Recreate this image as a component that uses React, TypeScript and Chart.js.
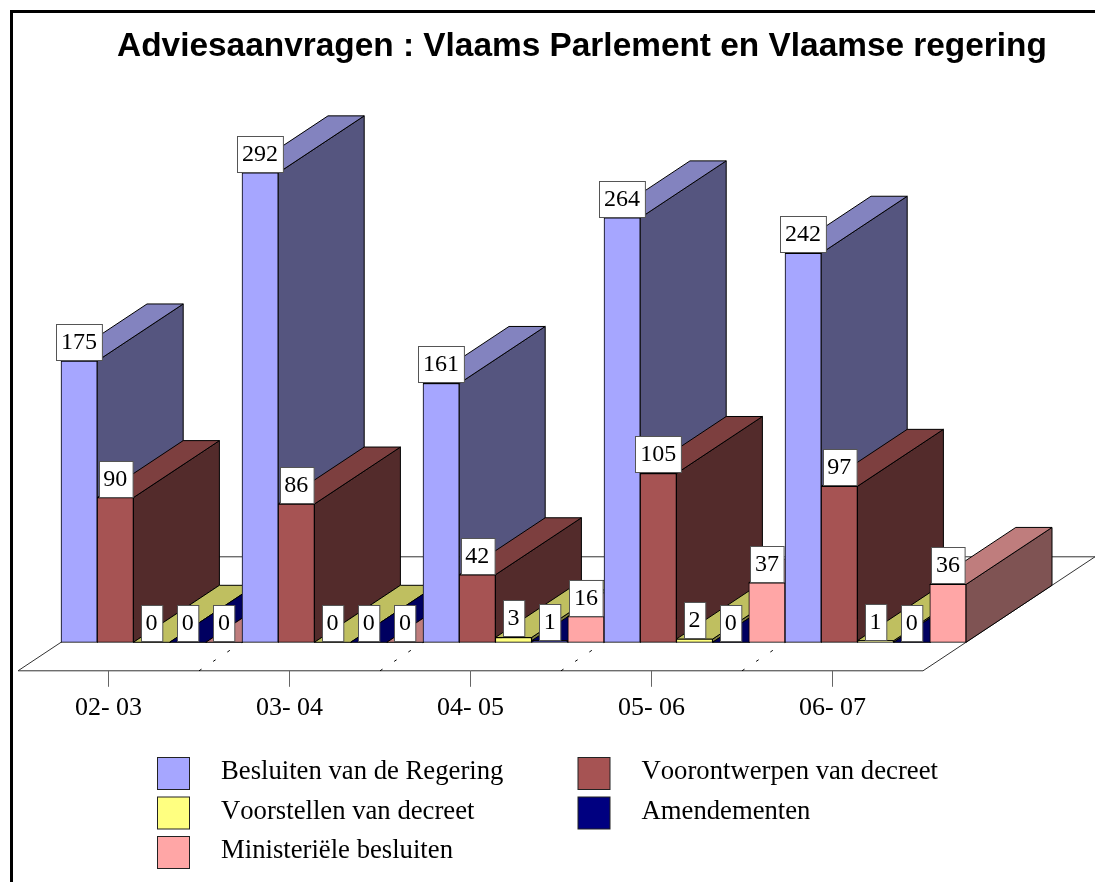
import React, { useEffect, useRef } from "react";
import { Chart, registerables } from "chart.js";

Chart.register(...registerables);

const chartTitle = "Adviesaanvragen : Vlaams Parlement en Vlaamse regering";
const categories = ["02- 03", "03- 04", "04- 05", "05- 06", "06- 07"];
const besluiten = [175, 292, 161, 264, 242];
const voorontwerpen = [90, 86, 42, 105, 97];
const voorstellen = [0, 0, 3, 2, 1];
const amendementen = [0, 0, 1, 0, 0];
const ministeriele = [0, 0, 16, 37, 36];

const seriesStyles = [
  { front: "#A6A6FF", side: "#55557F", top: "#8383BF" },
  { front: "#A65353", side: "#532B2B", top: "#7D3F3F" },
  { front: "#FFFF80", side: "#808040", top: "#BFBF60" },
  { front: "#000080", side: "#000040", top: "#000060" },
  { front: "#FFA6A6", side: "#7F5353", top: "#BF7D7D" },
];

const DEPTH_X = 86;
const DEPTH_Y = 57;
const SERIF = '"Liberation Serif", "Times New Roman", serif';

function poly(ctx: CanvasRenderingContext2D, pts: number[][], fill: string | null, stroke: string | null) {
  ctx.beginPath();
  pts.forEach((p, i) => (i === 0 ? ctx.moveTo(p[0], p[1]) : ctx.lineTo(p[0], p[1])));
  ctx.closePath();
  if (fill) {
    ctx.fillStyle = fill;
    ctx.fill();
  }
  if (stroke) {
    ctx.strokeStyle = stroke;
    ctx.lineWidth = 1;
    ctx.stroke();
  }
}

const scene3d = {
  id: "scene3d",
  beforeDraw(chart: any) {
    const { ctx, width, height } = chart;
    ctx.save();
    ctx.fillStyle = "#FFFFFF";
    ctx.fillRect(0, 0, width, height);
    ctx.fillStyle = "#000000";
    ctx.fillRect(10, 10, width - 10, 3);
    ctx.fillRect(10, 10, 3, height - 10);
    ctx.font = 'bold 33.4px "Liberation Sans", Arial, sans-serif';
    ctx.textAlign = "center";
    ctx.textBaseline = "alphabetic";
    ctx.fillText(chartTitle, 582, 56);
    ctx.restore();
  },
  beforeDatasetsDraw(chart: any) {
    const { ctx } = chart;
    const xs = chart.scales.x;
    const ys = chart.scales.y;
    const base = ys.getPixelForValue(0);
    const n = categories.length;
    const step = xs.getPixelForValue(1) - xs.getPixelForValue(0);
    const metas = chart.data.datasets.map((_: any, i: number) => chart.getDatasetMeta(i));
    const fx = xs.left - DEPTH_X / 2;
    const fy = base + DEPTH_Y / 2;
    ctx.save();
    // floor
    poly(
      ctx,
      [
        [fx, fy],
        [fx + step * n, fy],
        [fx + step * n + DEPTH_X * 2, fy - DEPTH_Y * 2],
        [fx + DEPTH_X * 2, fy - DEPTH_Y * 2],
      ],
      "#FFFFFF",
      "#333333"
    );
    // axis tick marks
    ctx.strokeStyle = "#666666";
    ctx.lineWidth = 1;
    categories.forEach((_, i) => {
      const tx = Math.floor(xs.getPixelForValue(i) - DEPTH_X / 2) + 0.5;
      ctx.beginPath();
      ctx.moveTo(tx, fy);
      ctx.lineTo(tx, fy + 16);
      ctx.stroke();
    });
    // dashed floor gridlines
    ctx.strokeStyle = "#000000";
    ctx.setLineDash([3, 14]);
    for (let i = 1; i < n; i++) {
      const bx = fx + step * i;
      ctx.beginPath();
      ctx.moveTo(bx, fy);
      ctx.lineTo(bx + DEPTH_X / 2, base);
      ctx.stroke();
    }
    ctx.setLineDash([]);
    // bars painted left to right so that nearer faces cover farther ones
    for (let c = 0; c < n; c++) {
      metas.forEach((meta: any, s: number) => {
        const el = meta.data[c];
        const st = seriesStyles[s];
        const l = el.x - el.width / 2;
        const r = el.x + el.width / 2;
        const t = el.y;
        const b = el.base;
        poly(ctx, [[r, t], [r + DEPTH_X, t - DEPTH_Y], [r + DEPTH_X, b - DEPTH_Y], [r, b]], st.side, "#000000");
        poly(ctx, [[l, t], [r, t], [r + DEPTH_X, t - DEPTH_Y], [l + DEPTH_X, t - DEPTH_Y]], st.top, "#000000");
        el.draw(ctx);
      });
    }
    // value boxes
    ctx.font = `24px ${SERIF}`;
    ctx.textAlign = "center";
    ctx.textBaseline = "middle";
    metas.forEach((meta: any, s: number) => {
      const values = chart.data.datasets[s].data;
      meta.data.forEach((el: any, c: number) => {
        const text = String(values[c]);
        const w = text.length * 12.3 + 9;
        const h = 36;
        const bx = Math.round(el.x - w / 2) + 0.5;
        const by = Math.round(el.y - h) - 0.5;
        ctx.fillStyle = "#FFFFFF";
        ctx.strokeStyle = "#555555";
        ctx.lineWidth = 1;
        ctx.fillRect(bx, by, w, h);
        ctx.strokeRect(bx, by, w, h);
        ctx.fillStyle = "#000000";
        ctx.fillText(text, el.x, by + h / 2);
      });
    });
    // legend
    const legendX = [157.5, 578];
    const legendY = [757, 796.5, 836];
    ctx.font = `26.7px ${SERIF}`;
    (ctx as any).fontKerning = "none";
    ctx.textAlign = "left";
    ctx.textBaseline = "middle";
    chart.data.datasets.forEach((ds: any, i: number) => {
      const x = legendX[i % 2];
      const y = legendY[Math.floor(i / 2)];
      ctx.fillStyle = ds.backgroundColor;
      ctx.strokeStyle = "#222222";
      ctx.fillRect(x, y + 0.5, 32, 32);
      ctx.strokeRect(x, y + 0.5, 32, 32);
      ctx.fillStyle = "#000000";
      ctx.fillText(ds.label, x + 63.5, y + 15);
    });
    ctx.restore();
    return false;
  },
};

export default function App() {
  const ref = useRef<HTMLCanvasElement | null>(null);
  useEffect(() => {
    if (!ref.current) return;
    const makeSet = (label: string, data: number[], s: number) => ({
      label,
      data,
      backgroundColor: seriesStyles[s].front,
      borderColor: "#000000",
      borderWidth: 1,
      borderSkipped: false,
      categoryPercentage: 1,
      barPercentage: 1,
    });
    const chart = new Chart(ref.current, {
      type: "bar",
      data: {
        labels: categories,
        datasets: [
          makeSet("Besluiten van de Regering", besluiten, 0),
          makeSet("Voorontwerpen van decreet", voorontwerpen, 1),
          makeSet("Voorstellen van decreet", voorstellen, 2),
          makeSet("Amendementen", amendementen, 3),
          makeSet("Ministeriële besluiten", ministeriele, 4),
        ],
      },
      options: {
        responsive: false,
        animation: false,
        layout: { padding: { left: 61, right: 129, top: 160, bottom: 108.5 } },
        plugins: { legend: { display: false }, title: { display: false }, tooltip: { enabled: false } },
        scales: {
          x: {
            grid: { display: false, drawTicks: false },
            border: { display: false },
            ticks: {
              padding: 50,
              labelOffset: -DEPTH_X / 2,
              maxRotation: 0,
              autoSkip: false,
              color: "#000000",
              font: { family: SERIF, size: 26 },
            },
          },
          y: { display: false, min: 0, max: 300 },
        },
      },
      plugins: [scene3d],
    } as any);
    return () => chart.destroy();
  }, []);
  return (
    <canvas
      ref={ref}
      width={1095}
      height={882}
      style={{ position: "absolute", left: 0, top: 0, display: "block" }}
    />
  );
}
